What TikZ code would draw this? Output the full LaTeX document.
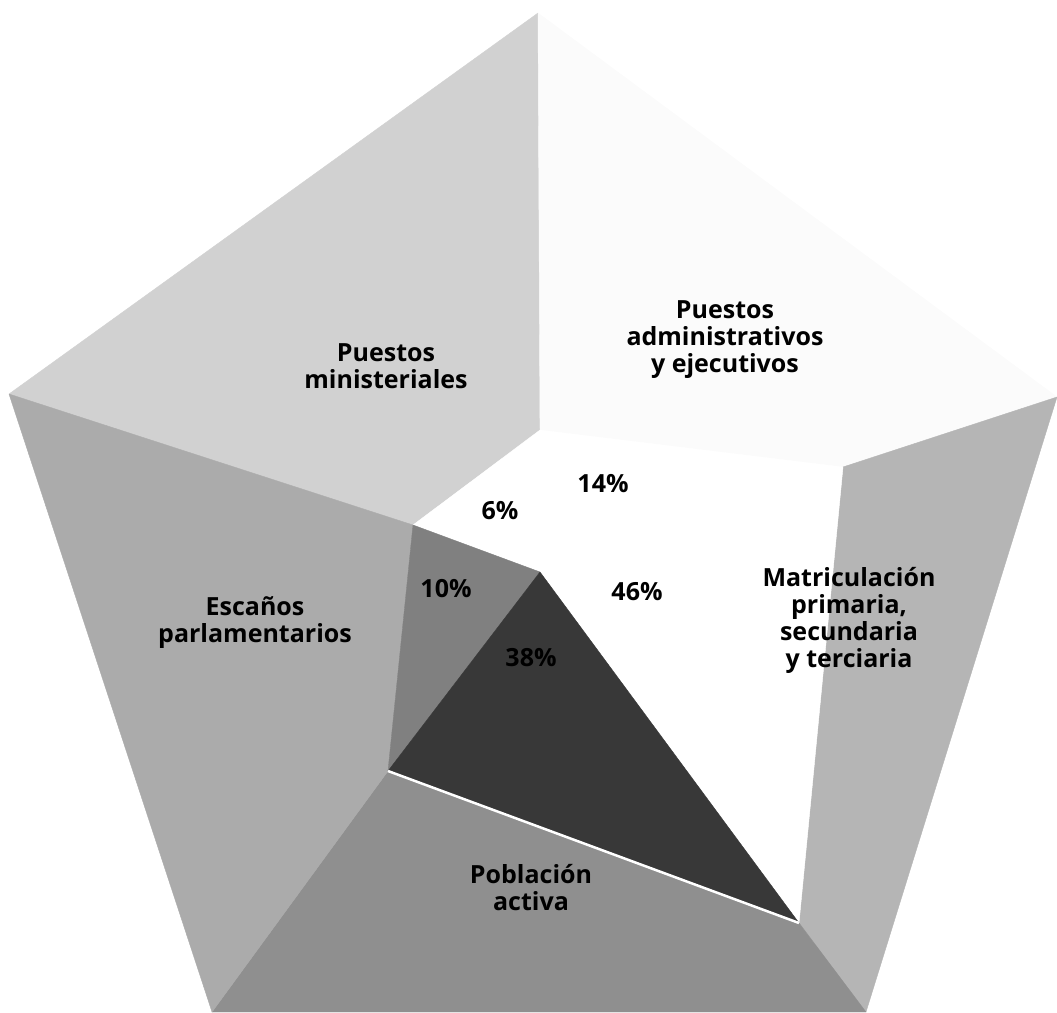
\documentclass[tikz,border=0pt]{standalone}
\usepackage{fontspec}
\setmainfont{Open Sans}
\definecolor{ministerio}{gray}{0.82}
\definecolor{administra}{gray}{0.985}
\definecolor{escanos}{gray}{0.67}
\definecolor{poblacion}{gray}{0.56}
\definecolor{matricula}{gray}{0.71}
\definecolor{diez}{gray}{0.50}
\definecolor{treintaocho}{gray}{0.22}

\begin{document}
\begin{tikzpicture}[x=1pt,y=-1pt,
	pared/.style={fill=#1,draw=#1,line join=round},
	rotulo/.style={align=center,font=\bfseries\fontsize{25}{27}\selectfont},
	cifra/.style={font=\bfseries\fontsize{25}{27}\selectfont}]
	\useasboundingbox (0,0) rectangle (1057,1012);
	% vertices exteriores
	\coordinate (T) at (538,13);
	\coordinate (L) at (9,394);
	\coordinate (BL) at (212,1012);
	\coordinate (BR) at (866,1012);
	\coordinate (R) at (1057,397);
	% base (pentagono interior) y centro
	\coordinate (A) at (540,430);
	\coordinate (B) at (413,525);
	\coordinate (C) at (388,771);
	\coordinate (D) at (799,923);
	\coordinate (E) at (843,467);
	\coordinate (O) at (540,572);
	
	% paredes
	\path[pared=ministerio] (L) -- (T) -- (A) -- (B) -- cycle;
	\path[pared=administra] (T) -- (R) -- (E) -- (A) -- cycle;
	\path[pared=matricula] (E) -- (R) -- (BR) -- (D) -- cycle;
	\path[pared=poblacion] (C) -- (D) -- (BR) -- (BL) -- cycle;
	\path[pared=escanos] (L) -- (B) -- (C) -- (BL) -- cycle;
	% sectores de la base
	\path[pared=white] (O) -- (B) -- (A) -- (E) -- (D) -- cycle;
	\path[pared=diez] (O) -- (B) -- (C) -- cycle;
	\path[pared=treintaocho] (O) -- (C) -- (D) -- cycle;
	\draw[white,line width=2.5pt] (C) -- (D);
	
	% rotulos
	\node[rotulo] (ministeriales) at (386,366) {Puestos\\ministeriales};
	\node[rotulo] (administrativos) at (725,340) {Puestos\\administrativos\\y ejecutivos};
	\node[rotulo] (matriculacion) at (849,620) {Matriculación\\primaria,\\secundaria\\y terciaria};
	\node[rotulo] (escanos) at (255,623) {Escaños\\parlamentarios};
	\node[rotulo] (poblacion) at (531,888) {Población\\activa};
	\foreach \nombre/\x/\y/\cifra in {seis/500/511/6,catorce/603/484/14,%
		cuarentayseis/637/592/46,diez/446/589/10,treintayocho/531/658/38}
		\node[cifra] (\nombre) at (\x,\y) {\cifra\%};
\end{tikzpicture}
\end{document}
